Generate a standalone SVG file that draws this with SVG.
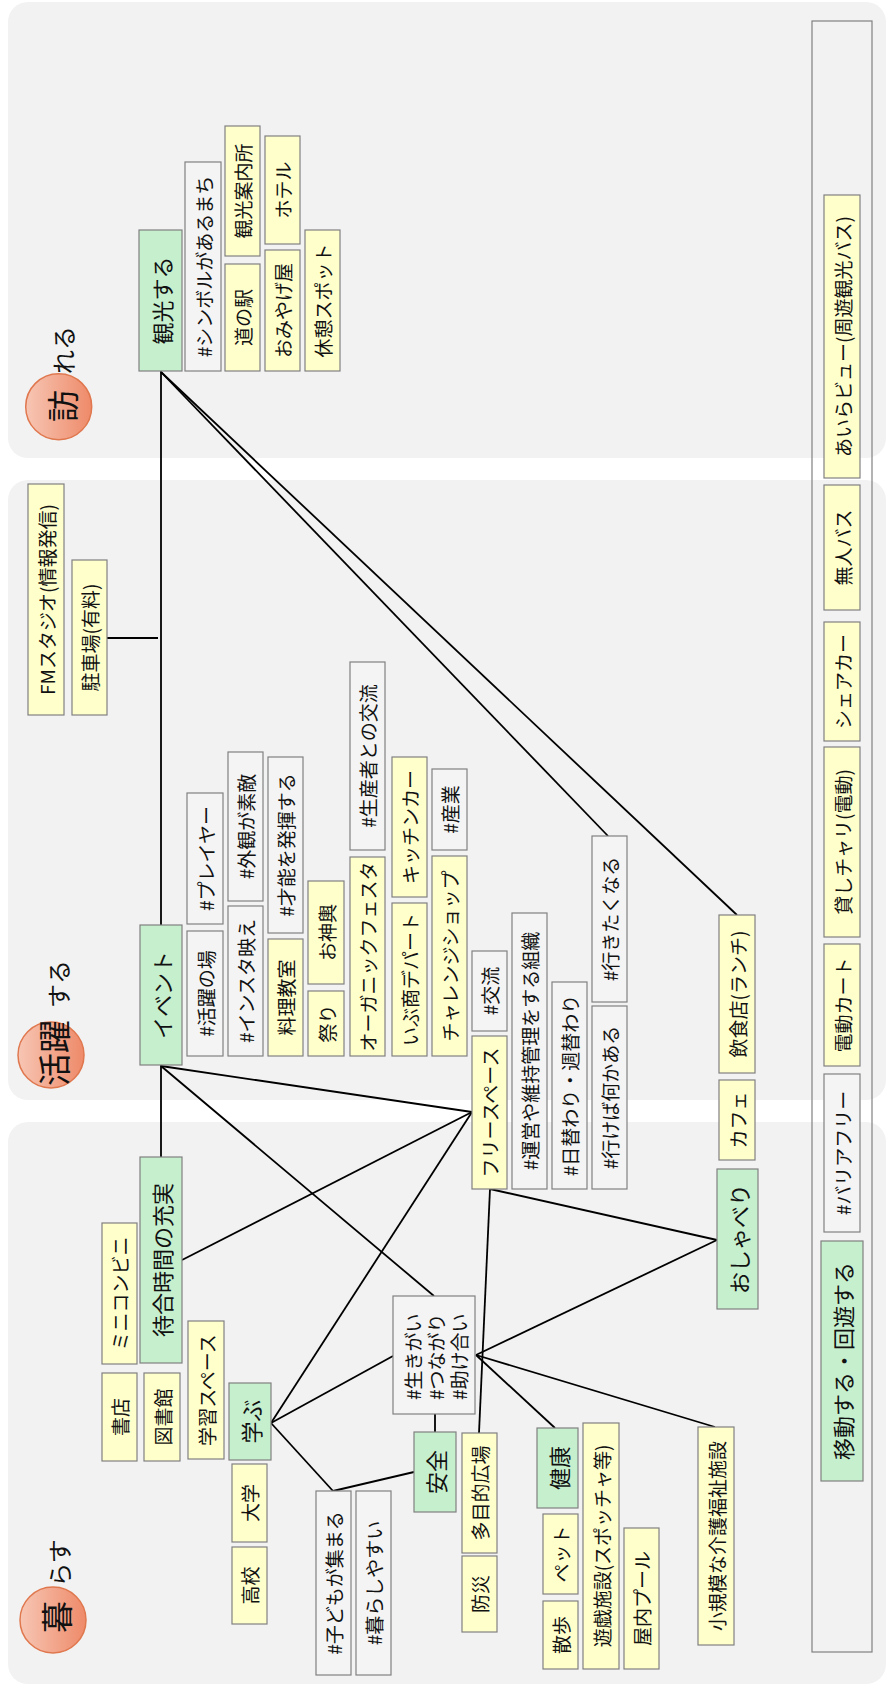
<svg xmlns="http://www.w3.org/2000/svg" width="890" height="1686" viewBox="0 0 890 1686">
<defs>
<linearGradient id="cg" x1="0" y1="0" x2="1" y2="0">
<stop offset="0" stop-color="#f7c6b4"/>
<stop offset="1" stop-color="#ee8a69"/>
</linearGradient>
<style>
.panel{fill:#f2f2f2}
.g{fill:#c6efce;stroke:#808080;stroke-width:1.2}
.y{fill:#ffffcc;stroke:#808080;stroke-width:1.2}
.w{fill:#f4f4f4;stroke:#808080;stroke-width:1.2}
.cont{fill:none;stroke:#808080;stroke-width:1.2}
.t{font-family:"Noto Sans CJK JP","Noto Sans CJK SC",sans-serif;font-size:19px;text-anchor:middle;dominant-baseline:central;fill:#111}
.tg{font-size:22px}
.ts{text-anchor:start}
.big{font-size:32px}
.mid{font-size:24px}
.circ{fill:url(#cg);stroke:#e0784f;stroke-width:1.5}
.con line{stroke:#000;stroke-width:1.8;fill:none}
</style>
</defs>
<rect x="0" y="0" width="890" height="1686" fill="#ffffff"/>
<rect class="panel" x="8" y="2" width="878" height="456" rx="20"/>
<rect class="panel" x="8" y="480" width="878" height="620" rx="20"/>
<rect class="panel" x="8" y="1122" width="878" height="562" rx="20"/>

<g id="label-otozureru">
<text class="t mid" x="62" y="350" transform="rotate(-90 62 350)">れる</text>
<circle class="circ" cx="58.7" cy="406.7" r="33"/>
<text class="t big" x="61" y="406" transform="rotate(-90 61 406)">訪</text>
</g>
<g id="label-katsuyaku">
<circle class="circ" cx="51" cy="1055" r="33"/>
<text class="t" style="font-size:33px" x="53" y="1053" transform="rotate(-90 53 1053)">活躍</text>
<text class="t mid" x="57" y="984" transform="rotate(-90 57 984)">する</text>
</g>
<g id="label-kurasu">
<text class="t mid" x="58" y="1563" transform="rotate(-90 58 1563)">らす</text>
<circle class="circ" cx="53" cy="1620" r="33"/>
<text class="t big" x="55" y="1617" transform="rotate(-90 55 1617)">暮</text>
</g>

<g id="connectors" class="con">
<line x1="161" y1="371" x2="161" y2="925"/>
<line x1="107" y1="638" x2="158" y2="638"/>
<line x1="161" y1="1065" x2="161" y2="1157"/>
<line x1="161" y1="372" x2="608" y2="836"/>
<line x1="161" y1="372" x2="737" y2="915"/>
<line x1="161" y1="1066" x2="472" y2="1112"/>
<line x1="161" y1="1066" x2="434" y2="1296"/>
<line x1="182" y1="1260" x2="472" y2="1112"/>
<line x1="271" y1="1423" x2="472" y2="1112"/>
<line x1="271" y1="1423" x2="393" y2="1356"/>
<line x1="271" y1="1423" x2="333" y2="1491"/>
<line x1="333" y1="1491" x2="414" y2="1472"/>
<line x1="435" y1="1414" x2="435" y2="1432"/>
<line x1="490" y1="1189" x2="479" y2="1433"/>
<line x1="490" y1="1189" x2="717" y2="1240"/>
<line x1="476" y1="1355" x2="717" y2="1240"/>
<line x1="476" y1="1355" x2="555" y2="1428"/>
<line x1="476" y1="1355" x2="715" y2="1427"/>
</g>

<g id="n-kanko"><rect class="g" x="139" y="230" width="43" height="141"/><text class="t tg" x="160.5" y="300.5" transform="rotate(-90 160.5 300.5)">観光する</text></g>
<g id="n-symbol"><rect class="w" x="185" y="162" width="36" height="209"/><text class="t" x="203" y="266.5" transform="rotate(-90 203 266.5)">#シンボルがあるまち</text></g>
<g id="n-annaijo"><rect class="y" x="225" y="126" width="35" height="130"/><text class="t" x="242.5" y="191" transform="rotate(-90 242.5 191)">観光案内所</text></g>
<g id="n-michinoeki"><rect class="y" x="225" y="264" width="35" height="107"/><text class="t" x="242.5" y="317.5" transform="rotate(-90 242.5 317.5)">道の駅</text></g>
<g id="n-hotel"><rect class="y" x="265" y="136" width="35" height="108"/><text class="t" x="282.5" y="190" transform="rotate(-90 282.5 190)">ホテル</text></g>
<g id="n-omiyage"><rect class="y" x="265" y="250" width="35" height="121"/><text class="t" x="282.5" y="310.5" transform="rotate(-90 282.5 310.5)">おみやげ屋</text></g>
<g id="n-kyukei"><rect class="y" x="305" y="230" width="35" height="141"/><text class="t" x="322.5" y="300.5" transform="rotate(-90 322.5 300.5)">休憩スポット</text></g>

<g id="n-container"><rect class="cont" x="812" y="21" width="60" height="1631"/></g>
<g id="n-airaview"><rect class="y" x="824" y="195" width="36" height="283"/><text class="t" x="842" y="336.5" transform="rotate(-90 842 336.5)">あいらビュー(周遊観光バス)</text></g>
<g id="n-mujinbus"><rect class="y" x="824" y="485" width="36" height="125"/><text class="t" x="842" y="547.5" transform="rotate(-90 842 547.5)">無人バス</text></g>
<g id="n-sharecar"><rect class="y" x="824" y="622" width="36" height="119"/><text class="t" x="842" y="681.5" transform="rotate(-90 842 681.5)">シェアカー</text></g>
<g id="n-kashichari"><rect class="y" x="824" y="747" width="36" height="190"/><text class="t" x="842" y="842" transform="rotate(-90 842 842)">貸しチャリ(電動)</text></g>
<g id="n-dendocart"><rect class="y" x="824" y="944" width="36" height="122"/><text class="t" x="842" y="1005" transform="rotate(-90 842 1005)">電動カート</text></g>
<g id="n-barrierfree"><rect class="w" x="824" y="1074" width="36" height="158"/><text class="t" x="842" y="1153" transform="rotate(-90 842 1153)">#バリアフリー</text></g>
<g id="n-ido"><rect class="g" x="821" y="1241" width="42" height="240"/><text class="t tg" x="842" y="1361" transform="rotate(-90 842 1361)">移動する・回遊する</text></g>

<g id="n-fm"><rect class="y" x="28" y="484" width="36" height="231"/><text class="t" x="46" y="599.5" transform="rotate(-90 46 599.5)">FMスタジオ(情報発信)</text></g>
<g id="n-parking"><rect class="y" x="72" y="560" width="35" height="155"/><text class="t" x="89.5" y="637.5" transform="rotate(-90 89.5 637.5)">駐車場(有料)</text></g>

<g id="n-player"><rect class="w" x="187" y="793" width="36" height="131"/><text class="t" x="205" y="858.5" transform="rotate(-90 205 858.5)">#プレイヤー</text></g>
<g id="n-katsuyakunoba"><rect class="w" x="187" y="931" width="36" height="125"/><text class="t" x="205" y="993.5" transform="rotate(-90 205 993.5)">#活躍の場</text></g>
<g id="n-gaikan"><rect class="w" x="228" y="752" width="35" height="149"/><text class="t" x="245.5" y="826.5" transform="rotate(-90 245.5 826.5)">#外観が素敵</text></g>
<g id="n-insta"><rect class="w" x="228" y="906" width="35" height="150"/><text class="t" x="245.5" y="981" transform="rotate(-90 245.5 981)">#インスタ映え</text></g>
<g id="n-sainou"><rect class="w" x="268" y="757" width="35" height="176"/><text class="t" x="285.5" y="845" transform="rotate(-90 285.5 845)">#才能を発揮する</text></g>
<g id="n-ryori"><rect class="y" x="268" y="939" width="35" height="117"/><text class="t" x="285.5" y="997.5" transform="rotate(-90 285.5 997.5)">料理教室</text></g>
<g id="n-omikoshi"><rect class="y" x="308" y="881" width="36" height="103"/><text class="t" x="326" y="932.5" transform="rotate(-90 326 932.5)">お神輿</text></g>
<g id="n-matsuri"><rect class="y" x="308" y="991" width="36" height="65"/><text class="t" x="326" y="1023.5" transform="rotate(-90 326 1023.5)">祭り</text></g>
<g id="n-seisansha"><rect class="w" x="350" y="662" width="35" height="188"/><text class="t" x="367.5" y="756" transform="rotate(-90 367.5 756)">#生産者との交流</text></g>
<g id="n-organic"><rect class="y" x="350" y="857" width="35" height="199"/><text class="t" x="367.5" y="956.5" transform="rotate(-90 367.5 956.5)">オーガニックフェスタ</text></g>
<g id="n-kitchencar"><rect class="y" x="392" y="757" width="35" height="140"/><text class="t" x="409.5" y="827" transform="rotate(-90 409.5 827)">キッチンカー</text></g>
<g id="n-ibusho"><rect class="y" x="392" y="903" width="35" height="153"/><text class="t" x="409.5" y="979.5" transform="rotate(-90 409.5 979.5)">いぶ商デパート</text></g>
<g id="n-sangyo"><rect class="w" x="432" y="769" width="35" height="81"/><text class="t" x="449.5" y="809.5" transform="rotate(-90 449.5 809.5)">#産業</text></g>
<g id="n-challenge"><rect class="y" x="432" y="856" width="35" height="200"/><text class="t" x="449.5" y="956" transform="rotate(-90 449.5 956)">チャレンジショップ</text></g>
<g id="n-koryu"><rect class="w" x="472" y="951" width="35" height="80"/><text class="t" x="489.5" y="991" transform="rotate(-90 489.5 991)">#交流</text></g>
<g id="n-freespace"><rect class="y" x="472" y="1036" width="35" height="153"/><text class="t" x="489.5" y="1112.5" transform="rotate(-90 489.5 1112.5)">フリースペース</text></g>
<g id="n-unei"><rect class="w" x="512" y="913" width="35" height="276"/><text class="t" x="529.5" y="1051" transform="rotate(-90 529.5 1051)">#運営や維持管理をする組織</text></g>
<g id="n-higawari"><rect class="w" x="552" y="982" width="35" height="207"/><text class="t" x="569.5" y="1085.5" transform="rotate(-90 569.5 1085.5)">#日替わり・週替わり</text></g>
<g id="n-ikitaku"><rect class="w" x="592" y="836" width="35" height="166"/><text class="t" x="609.5" y="919" transform="rotate(-90 609.5 919)">#行きたくなる</text></g>
<g id="n-ikeba"><rect class="w" x="592" y="1006" width="35" height="183"/><text class="t" x="609.5" y="1097.5" transform="rotate(-90 609.5 1097.5)">#行けば何かある</text></g>
<g id="n-inshoku"><rect class="y" x="719" y="915" width="36" height="158"/><text class="t" x="737" y="994" transform="rotate(-90 737 994)">飲食店(ランチ)</text></g>
<g id="n-cafe"><rect class="y" x="719" y="1080" width="36" height="80"/><text class="t" x="737" y="1120" transform="rotate(-90 737 1120)">カフェ</text></g>
<g id="n-oshaberi"><rect class="g" x="717" y="1169" width="41" height="140"/><text class="t tg" x="737.5" y="1239" transform="rotate(-90 737.5 1239)">おしゃべり</text></g>

<g id="n-event"><rect class="g" x="140" y="925" width="42" height="140"/><text class="t tg" x="161" y="995" transform="rotate(-90 161 995)">イベント</text></g>
<g id="n-machiai"><rect class="g" x="140" y="1157" width="42" height="206"/><text class="t tg" x="161" y="1260" transform="rotate(-90 161 1260)">待合時間の充実</text></g>
<g id="n-miniconbini"><rect class="y" x="102" y="1223" width="35" height="141"/><text class="t" x="119.5" y="1293.5" transform="rotate(-90 119.5 1293.5)">ミニコンビニ</text></g>
<g id="n-shoten"><rect class="y" x="102" y="1373" width="35" height="88"/><text class="t" x="119.5" y="1417" transform="rotate(-90 119.5 1417)">書店</text></g>
<g id="n-toshokan"><rect class="y" x="144" y="1373" width="36" height="88"/><text class="t" x="162" y="1417" transform="rotate(-90 162 1417)">図書館</text></g>
<g id="n-gakushu"><rect class="y" x="188" y="1321" width="36" height="138"/><text class="t" x="206" y="1390" transform="rotate(-90 206 1390)">学習スペース</text></g>
<g id="n-manabu"><rect class="g" x="229" y="1383" width="42" height="77"/><text class="t tg" x="250" y="1421.5" transform="rotate(-90 250 1421.5)">学ぶ</text></g>
<g id="n-daigaku"><rect class="y" x="232" y="1464" width="35" height="78"/><text class="t" x="249.5" y="1503" transform="rotate(-90 249.5 1503)">大学</text></g>
<g id="n-koko"><rect class="y" x="232" y="1547" width="35" height="77"/><text class="t" x="249.5" y="1585.5" transform="rotate(-90 249.5 1585.5)">高校</text></g>
<g id="n-kodomo"><rect class="w" x="316" y="1491" width="35" height="184"/><text class="t" x="333.5" y="1583" transform="rotate(-90 333.5 1583)">#子どもが集まる</text></g>
<g id="n-kurashi"><rect class="w" x="356" y="1491" width="35" height="184"/><text class="t" x="373.5" y="1583" transform="rotate(-90 373.5 1583)">#暮らしやすい</text></g>
<g id="n-anzen"><rect class="g" x="414" y="1432" width="42" height="80"/><text class="t tg" x="435" y="1472" transform="rotate(-90 435 1472)">安全</text></g>
<g id="n-ikigai"><rect class="w" x="393" y="1296" width="82" height="118"/>
<text class="t ts" x="412" y="1400" transform="rotate(-90 412 1400)">#生きがい</text>
<text class="t ts" x="435" y="1400" transform="rotate(-90 435 1400)">#つながり</text>
<text class="t ts" x="458" y="1400" transform="rotate(-90 458 1400)">#助け合い</text></g>
<g id="n-tamokuteki"><rect class="y" x="462" y="1433" width="35" height="120"/><text class="t" x="479.5" y="1493" transform="rotate(-90 479.5 1493)">多目的広場</text></g>
<g id="n-bosai"><rect class="y" x="462" y="1556" width="35" height="76"/><text class="t" x="479.5" y="1594" transform="rotate(-90 479.5 1594)">防災</text></g>
<g id="n-kenko"><rect class="g" x="537" y="1428" width="41" height="80"/><text class="t tg" x="557.5" y="1468" transform="rotate(-90 557.5 1468)">健康</text></g>
<g id="n-pet"><rect class="y" x="543" y="1514" width="35" height="80"/><text class="t" x="560.5" y="1554" transform="rotate(-90 560.5 1554)">ペット</text></g>
<g id="n-sanpo"><rect class="y" x="543" y="1601" width="35" height="68"/><text class="t" x="560.5" y="1635" transform="rotate(-90 560.5 1635)">散歩</text></g>
<g id="n-yugi"><rect class="y" x="583" y="1423" width="36" height="246"/><text class="t" x="601" y="1546" transform="rotate(-90 601 1546)">遊戯施設(スポッチャ等)</text></g>
<g id="n-pool"><rect class="y" x="624" y="1528" width="35" height="141"/><text class="t" x="641.5" y="1598.5" transform="rotate(-90 641.5 1598.5)">屋内プール</text></g>
<g id="n-kaigo"><rect class="y" x="698" y="1427" width="36" height="218"/><text class="t" x="716" y="1536" transform="rotate(-90 716 1536)">小規模な介護福祉施設</text></g>
</svg>
